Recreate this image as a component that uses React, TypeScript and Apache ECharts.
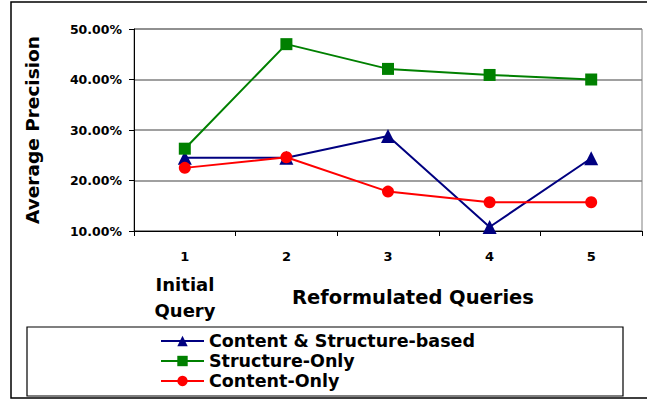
import React, { useEffect, useRef } from "react";
import * as echarts from "echarts";

const categories = ["1", "2", "3", "4", "5"];
const contentStructure = [24.5, 24.5, 28.8, 10.8, 24.4];
const structureOnly = [26.3, 47.0, 42.1, 40.9, 40.0];
const contentOnly = [22.5, 24.6, 17.8, 15.7, 15.7];
const yTicks = { min: 10, max: 50, interval: 10 };

const FONT = "'DejaVu Sans', Verdana, sans-serif";

export default function App() {
  const ref = useRef<HTMLDivElement>(null);

  useEffect(() => {
    document.body.style.margin = "0";
    if (!ref.current) return;
    const chart = echarts.init(ref.current, undefined, { renderer: "svg" });

    const lineSeries = (name: string, data: number[], color: string, symbol: string, size: number) => ({
      name,
      type: "line",
      data,
      symbol,
      symbolSize: size,
      lineStyle: { color, width: 2 },
      itemStyle: { color },
      emphasis: { disabled: true },
    });

    chart.setOption({
      animation: false,
      backgroundColor: "#ffffff",
      textStyle: { fontFamily: FONT },
      grid: {
        left: 134,
        top: 29,
        right: 5,
        bottom: 170,
        show: true,
        borderColor: "#808080",
        borderWidth: 1,
      },
      xAxis: {
        type: "category",
        data: categories,
        boundaryGap: true,
        axisLine: { lineStyle: { color: "#000", width: 1 } },
        axisTick: { show: true, length: 5, lineStyle: { color: "#000" } },
        axisLabel: {
          color: "#000",
          fontSize: 13,
          fontWeight: "bold",
          fontFamily: FONT,
          margin: 19,
        },
      },
      yAxis: {
        type: "value",
        min: yTicks.min,
        max: yTicks.max,
        interval: yTicks.interval,
        axisLine: { show: true, lineStyle: { color: "#000", width: 1 } },
        axisTick: { show: true, length: 5, lineStyle: { color: "#000" } },
        splitLine: { lineStyle: { color: "#808080", width: 1.5 } },
        axisLabel: {
          color: "#000",
          fontSize: 12.5,
          fontWeight: "bold",
          fontFamily: FONT,
          margin: 12,
          formatter: (v: number) => v.toFixed(2) + "%",
        },
        name: "Average Precision",
        nameLocation: "middle",
        nameGap: 92,
        nameRotate: 90,
        nameTextStyle: { color: "#000", fontSize: 18.5, fontWeight: "bold", fontFamily: FONT },
      },
      legend: {
        orient: "vertical",
        left: 160,
        top: 331,
        itemWidth: 43,
        itemHeight: 13,
        itemGap: 0,
        padding: 0,
        textStyle: {
          color: "#000",
          fontSize: 17.5,
          lineHeight: 20,
          fontWeight: "bold",
          fontFamily: FONT,
        },
        data: ["Content & Structure-based", "Structure-Only", "Content-Only"],
      },
      graphic: [
        {
          type: "rect",
          shape: { x: 11, y: 2, width: 700, height: 396 },
          style: { fill: "none", stroke: "#000", lineWidth: 1.5 },
          silent: true,
        },
        {
          type: "rect",
          shape: { x: 27, y: 327, width: 596, height: 69 },
          style: { fill: "none", stroke: "#000", lineWidth: 1.2 },
          silent: true,
        },
        {
          type: "text",
          x: 185,
          y: 284,
          style: {
            text: "Initial",
            font: `bold 18px ${FONT}`,
            fill: "#000",
            align: "center",
            verticalAlign: "middle",
          },
        },
        {
          type: "text",
          x: 185,
          y: 310,
          style: {
            text: "Query",
            font: `bold 18px ${FONT}`,
            fill: "#000",
            align: "center",
            verticalAlign: "middle",
          },
        },
        {
          type: "text",
          x: 413,
          y: 297,
          style: {
            text: "Reformulated Queries",
            font: `bold 19.5px ${FONT}`,
            fill: "#000",
            align: "center",
            verticalAlign: "middle",
          },
        },
      ],
      series: [
        lineSeries("Content & Structure-based", contentStructure, "#000080", "triangle", 14),
        lineSeries("Structure-Only", structureOnly, "#008000", "rect", 12),
        lineSeries("Content-Only", contentOnly, "#ff0000", "circle", 12),
      ],
    });

    return () => chart.dispose();
  }, []);

  return <div ref={ref} style={{ width: 647, height: 401 }} />;
}
